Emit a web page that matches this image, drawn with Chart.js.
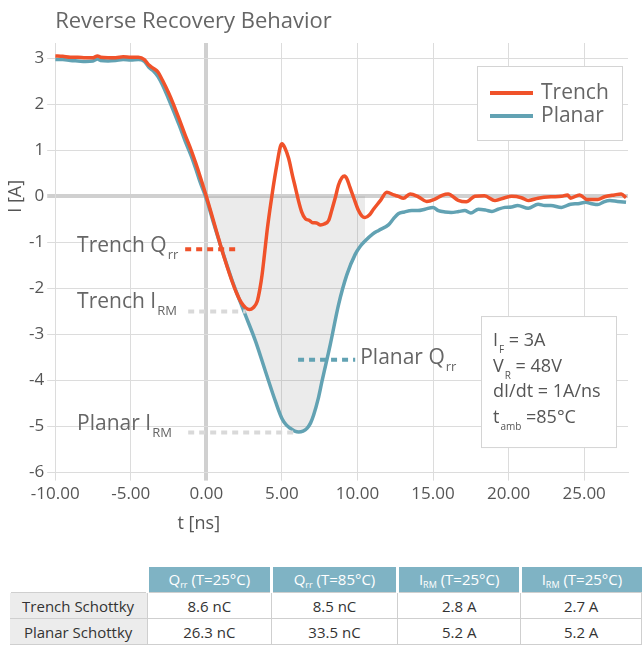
<!DOCTYPE html>
<html>
<head>
<meta charset="utf-8">
<script src="https://cdn.jsdelivr.net/npm/chart.js@4.4.1/dist/chart.umd.min.js"></script>
<style>
  body { margin: 0; background: #fff; font-family: "Open Sans", sans-serif; }
  #wrap { position: relative; width: 642px; height: 646px; overflow: hidden; }
  #chart { position: absolute; left: 0; top: 0; }
  table { position: absolute; left: 8px; top: 567px; border-collapse: collapse; font-size: 15px; color: #333; }
  td, th { height: 25px; padding: 0; text-align: center; font-weight: normal; }
  th { background: #7fb3c4; color: #fff; border-left: 3px solid #fff; }
  th.blank { background: #fff; }
  td { border: 1px solid #cfcfcf; }
  td.row { background: #ececec; border-left: none; }
  sub { font-size: 9px; vertical-align: -3px; }
</style>
</head>
<body>
<div id="wrap">
  <canvas id="chart" width="642" height="560"></canvas>
  <table>
    <tr>
      <th class="blank" style="width:137px"></th>
      <th style="width:123px">Q<sub>rr</sub> (T=25°C)</th>
      <th style="width:125px">Q<sub>rr</sub> (T=85°C)</th>
      <th style="width:122px">I<sub>RM</sub> (T=25°C)</th>
      <th style="width:121px">I<sub>RM</sub> (T=25°C)</th>
    </tr>
    <tr><td class="row">Trench Schottky</td><td>8.6 nC</td><td>8.5 nC</td><td>2.8 A</td><td>2.7 A</td></tr>
    <tr><td class="row">Planar Schottky</td><td>26.3 nC</td><td>33.5 nC</td><td>5.2 A</td><td>5.2 A</td></tr>
  </table>
</div>
<script>
// tick values
const xTicks = [-10, -5, 0, 5, 10, 15, 20, 25];
const yTicks = [-6, -5, -4, -3, -2, -1, 0, 1, 2, 3];

// time axis [ns] and current [A]
const trenchT = [-10, -9.5, -9, -8.5, -8, -7.5, -7.2, -7, -6.5, -6, -5.5, -5, -4.5, -4.1, -3.8, -3.5, -3.2, -2.9, -2.5, -2.2,
  -1.8, -1.4, -1.0, -0.7, -0.4, 0, 0.4, 0.84, 1.06, 1.4, 1.72, 2.0, 2.3, 2.6, 2.85, 3.1, 3.37, 3.55, 3.69, 3.85,
  4.02, 4.2, 4.4, 4.68, 4.9, 5.01, 5.2, 5.45, 5.7, 5.9, 6.1, 6.3, 6.56, 6.8, 7.0, 7.3, 7.55, 7.8, 8.1, 8.3,
  8.54, 8.75, 8.98, 9.15, 9.3, 9.5, 9.74, 10.07, 10.3, 10.5, 10.8, 11.06, 11.5, 11.94, 12.4, 12.7, 13.04, 13.48, 14.03, 14.58,
  15.13, 15.6, 16.0, 16.67, 17.2, 17.77, 18.4, 19.1, 19.75, 20.2, 20.85, 21.3, 21.95, 22.8, 23.5, 23.9, 24.1, 24.7, 25.2, 25.9,
  26.35, 27.0, 27.45, 27.77];
const trenchI = [3.05, 3.04, 3.02, 3.02, 3.01, 3.01, 3.05, 3.02, 3.01, 3.01, 3.03, 3.02, 3.02, 2.97, 2.85, 2.78, 2.70, 2.52, 2.25, 2.02,
  1.68, 1.33, 1.0, 0.72, 0.42, 0.0, -0.45, -0.95, -1.2, -1.55, -1.86, -2.1, -2.3, -2.42, -2.46, -2.42, -2.28, -2.0, -1.7, -1.25,
  -0.75, -0.3, 0.15, 0.71, 1.08, 1.14, 1.05, 0.82, 0.45, 0.18, -0.1, -0.33, -0.49, -0.52, -0.57, -0.58, -0.62, -0.6, -0.52, -0.3,
  -0.02, 0.25, 0.41, 0.44, 0.38, 0.2, -0.02, -0.31, -0.43, -0.46, -0.4, -0.28, -0.1, 0.09, 0.03, 0.0, -0.04, 0.05, -0.01, -0.11,
  -0.06, 0.02, 0.05, -0.09, -0.12, 0.0, 0.01, -0.09, -0.03, 0.0, -0.03, -0.09, -0.04, -0.01, 0.0, 0.03, -0.04, 0.03, -0.07, -0.07,
  -0.01, 0.03, 0.05, -0.03];

const planarT = [-10, -9.5, -9, -8.5, -8, -7.5, -7.2, -7, -6.5, -6, -5.5, -5, -4.5, -4.1, -3.8, -3.5, -3.2, -2.9, -2.5, -2.2,
  -1.8, -1.4, -1.0, -0.7, -0.4, 0, 0.5, 1.06, 1.72, 2.49, 3.26, 3.92, 4.58, 5.01, 5.3, 5.57, 5.85, 6.11, 6.4, 6.66,
  6.9, 7.1, 7.4, 7.65, 8.2, 8.75, 9.3, 9.85, 10.2, 10.5, 11.0, 11.4, 12.05, 12.4, 12.7, 13.1, 13.6, 14.0, 14.47, 15.0,
  15.35, 15.8, 16.2, 16.7, 17.1, 17.5, 18.0, 18.5, 18.9, 19.3, 19.75, 20.2, 20.6, 21.3, 21.95, 22.4, 22.8, 23.5, 24.1, 24.6,
  25.1, 25.5, 25.9, 26.3, 26.7, 27.2, 27.77];
const planarI = [2.97, 2.97, 2.95, 2.94, 2.93, 2.94, 2.98, 2.95, 2.94, 2.95, 2.97, 2.96, 2.97, 2.93, 2.8, 2.72, 2.6, 2.42, 2.12, 1.88,
  1.55, 1.2, 0.88, 0.6, 0.3, -0.05, -0.6, -1.19, -1.84, -2.5, -3.15, -3.81, -4.46, -4.83, -4.97, -5.04, -5.1, -5.12, -5.1, -5.04,
  -4.92, -4.75, -4.4, -4.02, -3.22, -2.35, -1.7, -1.26, -1.08, -0.97, -0.82, -0.74, -0.62, -0.48, -0.38, -0.34, -0.31, -0.31, -0.28, -0.24,
  -0.31, -0.34, -0.35, -0.33, -0.31, -0.36, -0.28, -0.3, -0.33, -0.28, -0.24, -0.23, -0.2, -0.26, -0.17, -0.2, -0.2, -0.24, -0.17, -0.16,
  -0.13, -0.16, -0.18, -0.12, -0.09, -0.11, -0.13];

// Qrr / IRM markers: level and span on the time axis
const markers = [
  { main: 'Trench Q', sub: 'rr', y: -1.15, x0: -1.4, x1: 2.2, color: '#f0522a', textX: -8.55, dy: 3, side: 'left' },
  { main: 'Trench I', sub: 'RM', y: -2.5, x0: -1.2, x1: 2.6, color: '#d9d9d9', textX: -8.55, dy: -3, side: 'left' },
  { main: 'Planar I', sub: 'RM', y: -5.13, x0: -1.2, x1: 6.0, color: '#d9d9d9', textX: -8.55, dy: -3, side: 'left' },
  { main: 'Planar Q', sub: 'rr', y: -3.55, x0: 6.07, x1: 9.85, color: '#62a2b3', textX: 10.2, dy: 4, side: 'right' }
];

const ORANGE = '#f0522a';
const TEAL = '#62a2b3';
const FONT = '"Open Sans", sans-serif';

const trench = trenchT.map((t, i) => ({ x: t, y: trenchI[i] }));
const planar = planarT.map((t, i) => ({ x: t, y: planarI[i] }));
const shaded = planar.filter(p => p.x >= 0 && p.x <= 10.6);

function subText(ctx, x, y, main, sub, size, subSize, color) {
  ctx.fillStyle = color;
  ctx.font = size + 'px ' + FONT;
  ctx.textAlign = 'left';
  ctx.textBaseline = 'alphabetic';
  ctx.fillText(main, x, y);
  const w = ctx.measureText(main).width;
  ctx.font = subSize + 'px ' + FONT;
  ctx.fillText(sub, x + w + 1, y + 7);
  return w + 1 + ctx.measureText(sub).width;
}

const overlay = {
  id: 'overlay',
  afterDatasetsDraw(chart) {
    const ctx = chart.ctx;
    const xs = chart.scales.x, ys = chart.scales.y;
    const area = chart.chartArea;
    ctx.save();
    // dotted marker lines + labels
    markers.forEach(m => {
      const py = ys.getPixelForValue(m.y);
      ctx.strokeStyle = m.color;
      ctx.lineWidth = 4;
      ctx.setLineDash([6, 5]);
      ctx.beginPath();
      ctx.moveTo(xs.getPixelForValue(m.x0), py);
      ctx.lineTo(xs.getPixelForValue(m.x1), py);
      ctx.stroke();
      ctx.setLineDash([]);
      let tx = xs.getPixelForValue(m.textX);
      if (m.side === 'right') tx = xs.getPixelForValue(m.x1) + 5;
      subText(ctx, tx, py + m.dy, m.main, m.sub, 21, 13, '#666');
    });

    // legend box
    const lx = area.right - 151, ly = area.top + 23;
    ctx.fillStyle = '#fff';
    ctx.strokeStyle = '#d4d4d4';
    ctx.lineWidth = 1;
    ctx.fillRect(lx, ly, 145, 74);
    ctx.strokeRect(lx + 0.5, ly + 0.5, 145, 74);
    [['Trench', ORANGE], ['Planar', TEAL]].forEach((it, i) => {
      const yy = ly + 27 + i * 23;
      ctx.strokeStyle = it[1];
      ctx.lineWidth = 4;
      ctx.beginPath();
      ctx.moveTo(lx + 13, yy);
      ctx.lineTo(lx + 56, yy);
      ctx.stroke();
      ctx.fillStyle = '#666';
      ctx.font = '21px ' + FONT;
      ctx.textBaseline = 'middle';
      ctx.fillText(it[0], lx + 64, yy);
    });

    // test conditions box
    const bx = area.right - 147, by = ys.getPixelForValue(-2.6);
    ctx.fillStyle = '#fff';
    ctx.strokeStyle = '#d4d4d4';
    ctx.lineWidth = 1;
    ctx.fillRect(bx, by, 135, 131);
    ctx.strokeRect(bx + 0.5, by + 0.5, 135, 131);
    const cond = [['I', 'F', ' = 3A'], ['V', 'R', ' = 48V'], ['dI/dt = 1A/ns', '', ''], ['t', 'amb', ' =85°C']];
    cond.forEach((c, i) => {
      const yy = by + 30 + i * 25.7;
      const w = subText(ctx, bx + 12, yy, c[0], c[1], 18, 10, '#555');
      ctx.font = '18px ' + FONT;
      ctx.fillText(c[2], bx + 12 + w, yy);
    });

    // title and axis titles
    ctx.fillStyle = '#666';
    ctx.font = '22px ' + FONT;
    ctx.textBaseline = 'alphabetic';
    ctx.fillText('Reverse Recovery Behavior', area.left, 28);
    ctx.font = '18px ' + FONT;
    ctx.fillStyle = '#555';
    ctx.textAlign = 'center';
    ctx.fillText('t [ns]', xs.getPixelForValue(-0.5), 529);
    ctx.translate(16, ys.getPixelForValue(0));
    ctx.rotate(-Math.PI / 2);
    ctx.textBaseline = 'middle';
    ctx.fillText('I [A]', 0, 0);
    ctx.restore();
  }
};

const gridColor = c => (c.tick && c.tick.value === 0) ? '#d0d0d0' : '#dcdcdc';
const gridWidth = c => (c.tick && c.tick.value === 0) ? 4 : 1;

new Chart(document.getElementById('chart'), {
  type: 'line',
  data: {
    datasets: [
      { label: 'Trench', data: trench, borderColor: ORANGE, borderWidth: 3.5, order: 1 },
      { label: 'Planar', data: planar, borderColor: TEAL, borderWidth: 3.5, order: 2 },
      { label: 'shade', data: shaded, borderWidth: 0, borderColor: 'rgba(0,0,0,0)',
        backgroundColor: 'rgba(120,120,120,0.15)', fill: 'origin', order: 3 }
    ]
  },
  options: {
    responsive: false,
    animation: false,
    layout: { padding: { left: 26, right: 14, top: 43, bottom: 53 } },
    elements: { point: { radius: 0 }, line: { cubicInterpolationMode: 'monotone' } },
    plugins: { legend: { display: false }, title: { display: false }, tooltip: { enabled: false } },
    scales: {
      x: {
        type: 'linear', min: -10, max: 27.9,
        afterBuildTicks: a => { a.ticks = xTicks.map(v => ({ value: v })); },
        ticks: { callback: v => v.toFixed(2), color: '#555', font: { family: FONT, size: 17 }, padding: 3, maxRotation: 0, autoSkip: false },
        grid: { color: gridColor, lineWidth: gridWidth, tickLength: 8 },
        border: { color: '#dcdcdc' }
      },
      y: {
        min: -6, max: 3.33,
        afterBuildTicks: a => { a.ticks = yTicks.map(v => ({ value: v })); },
        ticks: { color: '#555', font: { family: FONT, size: 17 }, padding: 3, autoSkip: false },
        grid: { color: gridColor, lineWidth: gridWidth, tickLength: 8 },
        border: { color: '#dcdcdc' }
      }
    }
  },
  plugins: [overlay]
});
</script>
</body>
</html>
